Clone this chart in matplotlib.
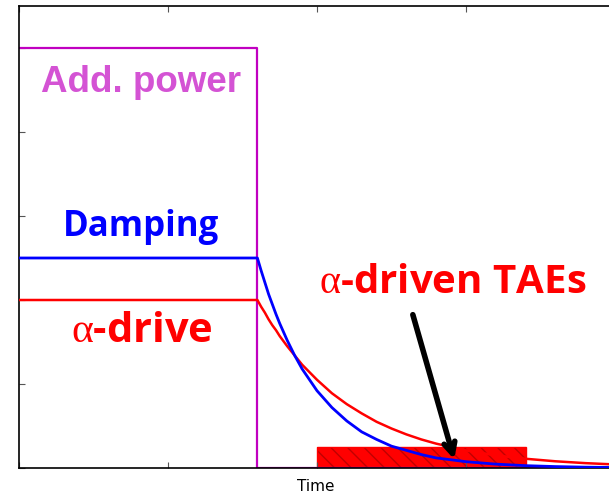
import matplotlib
matplotlib.use("Agg")
import matplotlib.pyplot as plt

plt.rcParams["mathtext.fontset"] = "custom"
plt.rcParams["mathtext.rm"] = "Liberation Serif"
plt.rcParams["mathtext.it"] = "Liberation Serif"

# step level of the additional power, and the two rates before it is switched off
t_power = [0.0, 1.6, 1.6, 4.0]
power = [5.0, 5.0, 0.0, 0.0]

# damping and alpha-drive (time, value)
t_rate = [0.0, 1.6, 1.625, 1.65, 1.675, 1.7, 1.725, 1.75, 1.8, 1.85, 1.9,
          2.0, 2.1, 2.2, 2.3, 2.4, 2.5, 2.6, 2.7, 2.8, 2.9, 3.0, 3.2, 3.4,
          3.6, 3.8, 4.0]
damping = [2.5, 2.5, 2.35, 2.21, 2.07, 1.95, 1.83, 1.72, 1.52, 1.34, 1.18,
           0.92, 0.72, 0.56, 0.43, 0.34, 0.26, 0.21, 0.16, 0.12, 0.098,
           0.075, 0.046, 0.028, 0.017, 0.010, 0.006]
alpha_drive = [2.0, 2.0, 1.92, 1.85, 1.77, 1.70, 1.64, 1.57, 1.45, 1.34,
               1.23, 1.05, 0.89, 0.76, 0.65, 0.55, 0.47, 0.40, 0.34, 0.29,
               0.25, 0.21, 0.15, 0.11, 0.08, 0.058, 0.042]

# window where alpha-driven TAEs show up
tae_start, tae_end, tae_level = 2.0, 3.4, 0.25

fig = plt.figure(figsize=(6.09, 4.93), dpi=100)
ax = fig.add_axes([19 / 609, 25 / 493, 596 / 609, 462 / 493])

ax.bar(tae_start, tae_level, width=tae_end - tae_start, align="edge",
       color="#ff0000", edgecolor="#c00000", hatch="\\\\", linewidth=0, zorder=1)
ax.bar(tae_start, tae_level, width=tae_end - tae_start, align="edge",
       fill=False, edgecolor="#ff0000", linewidth=1, zorder=1)

ax.plot(t_power, power, color="#c000c0", lw=1.6, zorder=2)
ax.plot(t_rate, alpha_drive, color="#ff0000", lw=1.8, zorder=3)
ax.plot(t_rate, damping, color="#0000ff", lw=2.0, zorder=4)

ax.text(0.82, 4.476, "Add. power", color="#d453d4", fontsize=26.5,
        fontweight="bold", family="Liberation Sans", ha="center", va="baseline")
ax.text(0.822, 2.762, "Damping", color="#0000ff", fontsize=25,
        fontweight="bold", family="Open Sans", ha="center", va="baseline")
ax.text(0.822, 1.5, r"$\alpha$-drive", color="#ff0000", fontsize=30,
        fontweight="bold", family="Open Sans", ha="center", va="baseline")
ax.text(2.913, 2.083, r"$\alpha$-driven TAEs", color="#ff0000", fontsize=29,
        fontweight="bold", family="Open Sans", ha="center", va="baseline")

ax.annotate("", xy=(2.926, 0.071), xytext=(2.638, 1.857),
            arrowprops=dict(arrowstyle="->,head_length=0.8,head_width=0.4",
                            color="black", lw=4), zorder=5)

ax.set_xlim(0, 4)
ax.set_ylim(0, 5.5)
ax.set_xticks([0, 1, 2, 3, 4])
ax.set_yticks([0, 1, 2, 3, 4, 5])
ax.tick_params(direction="in", top=True, right=True, labelbottom=False,
               labelleft=False, length=4, color="#555555")
for s in ax.spines.values():
    s.set_linewidth(1.2)

ax.set_xlabel("Time", fontsize=11)
ax.xaxis.set_label_coords(0.498, -0.024)

fig.savefig("out.png", dpi=100)
